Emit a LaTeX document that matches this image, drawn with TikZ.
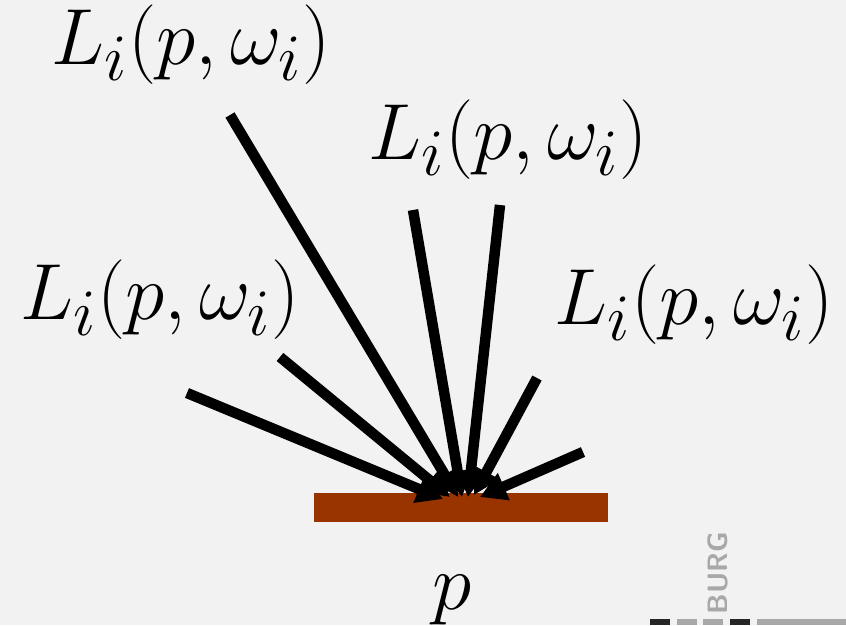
\documentclass[tikz,border=0pt]{standalone}
\usetikzlibrary{arrows.meta}
\definecolor{bg}{HTML}{F2F2F2}
\definecolor{surf}{HTML}{993300}
\definecolor{logogrey}{HTML}{A8A8A8}
\begin{document}
\begin{tikzpicture}[x=1pt,y=-1pt,
  ray/.style={line width=10.5pt,-{Triangle[length=26pt,width=28pt]}},
  lab/.style={font=\Huge,scale=3.2,inner sep=0pt}]
\fill[bg] (0,0) rectangle (846,625);
\useasboundingbox (0,0) rectangle (846,625);
\node[fill=surf,minimum width=294pt,minimum height=29pt,inner sep=0pt] (surface) at (461,507.5) {};
\node[lab] (l1) at (191,45) {$L_i(p,\omega_i)$};
\node[lab] (l2) at (508,140) {$L_i(p,\omega_i)$};
\node[lab] (l3) at (160,300) {$L_i(p,\omega_i)$};
\node[lab] (l4) at (694,305) {$L_i(p,\omega_i)$};
\node[lab] (p) at (452,600) {$p$};
\coordinate (s1) at (230,115);
\coordinate (s2) at (413,210);
\coordinate (s3) at (500,205);
\coordinate (s4) at (537,378);
\coordinate (s5) at (583,452);
\coordinate (s6) at (187,393);
\coordinate (s7) at (280,357);
\coordinate (e1) at (458,497);
\coordinate (e2) at (462,497);
\coordinate (e3) at (468,497);
\coordinate (e4) at (474,495);
\coordinate (e5) at (480,497);
\coordinate (e6) at (443,499);
\coordinate (e7) at (450,497);
\foreach \i in {1,...,7} \draw[ray] (s\i) -- (e\i);
% logo fragment
\node[rotate=90,font=\sffamily\bfseries\fontsize{28}{30}\selectfont,text=logogrey,inner sep=0pt] (logo) at (718,573) {BURG};
\fill[black!85] (650,619) rectangle (670,625);
\fill[logogrey] (677,619) rectangle (697,625);
\fill[logogrey] (703,619) rectangle (723,625);
\fill[black!85] (730,619) rectangle (750,625);
\fill[logogrey] (757,619) rectangle (846,625);
\end{tikzpicture}
\end{document}
